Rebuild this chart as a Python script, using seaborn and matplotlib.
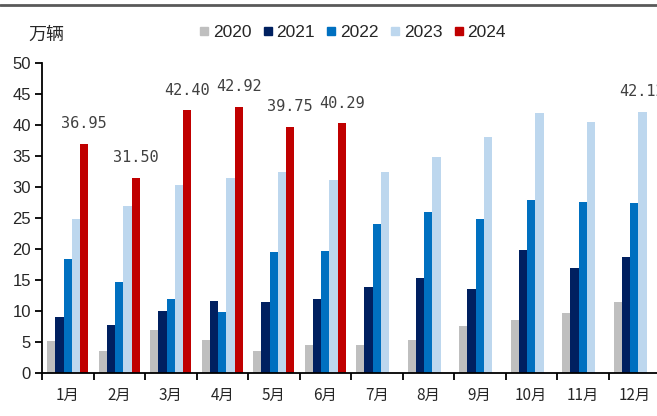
import pandas as pd
import numpy as np
import seaborn as sns
import matplotlib.pyplot as plt
from matplotlib.lines import Line2D

# monthly sales, 万辆
months = ['1月', '2月', '3月', '4月', '5月', '6月', '7月', '8月', '9月', '10月', '11月', '12月']
years = ['2020', '2021', '2022', '2023', '2024']
v2020 = [5.1, 3.5, 6.9, 5.4, 3.5, 4.5, 4.5, 5.3, 7.6, 8.5, 9.6, 11.5]
v2021 = [9.1, 7.7, 10.0, 11.6, 11.5, 11.9, 13.9, 15.3, 13.5, 19.8, 17.0, 18.7]
v2022 = [18.4, 14.6, 12.0, 9.9, 19.5, 19.7, 24.0, 25.9, 24.9, 27.9, 27.6, 27.4]
v2023 = [24.9, 27.0, 30.4, 31.5, 32.5, 31.1, 32.5, 34.8, 38.0, 42.0, 40.5, 42.1]
v2024 = [36.95, 31.50, 42.40, 42.92, 39.75, 40.29]
label2024 = ['36.95', '31.50', '42.40', '42.92', '39.75', '40.29']
label_dec2023 = '42.12'

colors = {'2020': '#BFBFBF', '2021': '#002060', '2022': '#0070C0',
          '2023': '#BDD7EE', '2024': '#C00000'}

rows = []
for yr, vals in zip(years, [v2020, v2021, v2022, v2023, v2024]):
	for i, v in enumerate(vals):
		rows.append({'month': months[i], 'year': yr, 'value': v})
df = pd.DataFrame(rows)

sns.set_style("white")
plt.rcParams['font.family'] = ['Liberation Sans', 'Noto Sans CJK SC', 'DejaVu Sans']

fig = plt.figure(figsize=(6.57, 4.16), dpi=100)
ax = fig.add_axes([42 / 657, 1 - 373 / 416, 618 / 657, 310 / 416])

sns.barplot(data=df, x='month', y='value', hue='year', order=months, hue_order=years,
            palette=colors, width=0.8, saturation=1, legend=False, ax=ax, linewidth=0)

ax.set_xlim(-0.5, 11.5)
ax.set_ylim(0, 50)
ax.set_yticks(np.arange(0, 51, 5))
ax.set_xlabel('')
ax.set_ylabel('')

for s in ['top', 'right']:
	ax.spines[s].set_visible(False)
for s in ['left', 'bottom']:
	ax.spines[s].set_color('black')
	ax.spines[s].set_linewidth(1.3)

# ticks at the group borders, labels at the centers
ax.set_xticks(np.arange(-0.5, 12, 1), minor=True)
ax.tick_params(axis='x', which='major', length=0, pad=10, labelsize=11, labelcolor='#262626')
ax.tick_params(axis='x', which='minor', length=5, width=1.3, color='black', direction='out', bottom=True)
ax.tick_params(axis='y', length=5, width=1.3, color='black', direction='out', left=True,
               labelsize=12, pad=3, labelcolor='#262626')
for t in ax.get_xticklabels():
	t.set_family(['Noto Sans CJK SC', 'DejaVu Sans'])

# value labels on 2024 bars
step = 0.8 / 5
for i, v in enumerate(v2024):
	ax.annotate(label2024[i], (i + 2 * step, v), xytext=(0, 9), textcoords='offset points',
	            ha='center', va='bottom', fontsize=11, color='#404040',
	            family='DejaVu Sans Mono', annotation_clip=False)
ax.annotate(label_dec2023, (11 + 1 * step, v2023[11]), xytext=(0, 9), textcoords='offset points',
            ha='center', va='bottom', fontsize=11, color='#404040',
            family='DejaVu Sans Mono', annotation_clip=False)

# legend
handles = [Line2D([], [], marker='s', linestyle='', markersize=6, color=colors[y]) for y in years]
fig.legend(handles, years, loc='center', bbox_to_anchor=(0.537, 0.923), ncol=5, frameon=False,
           fontsize=12.5, handlelength=0.5, handletextpad=0.25, columnspacing=0.7,
           labelcolor='#262626')

fig.text(28 / 657, 1 - 35 / 416, '万辆', fontsize=13, family=['Noto Sans CJK SC'],
         va='center', ha='left', color='#262626')

# grey rule at the top
fig.add_artist(Line2D([0, 1], [1 - 5 / 416, 1 - 5 / 416], color='#595959', linewidth=2))

fig.savefig('out.png', dpi=100)
